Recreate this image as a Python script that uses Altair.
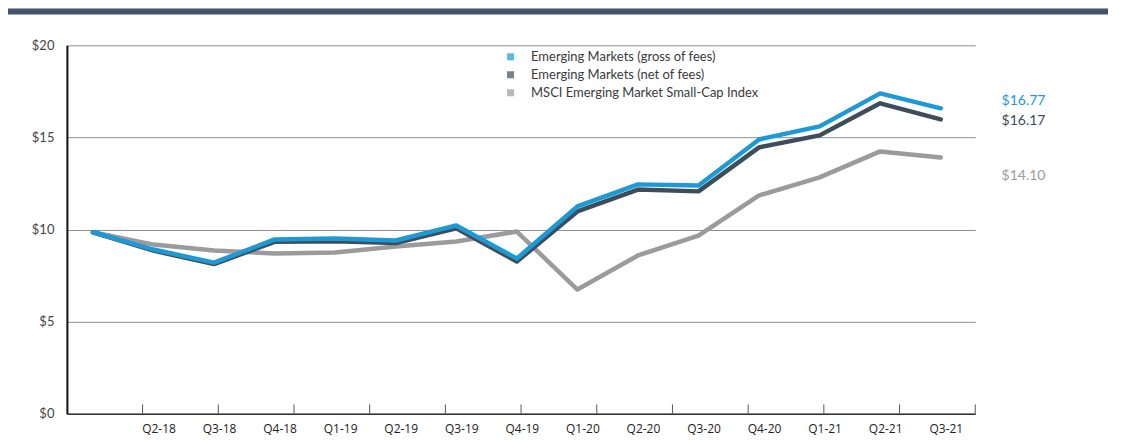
import json
import altair as alt
import pandas as pd

quarters = ["Q1-18", "Q2-18", "Q3-18", "Q4-18", "Q1-19", "Q2-19", "Q3-19", "Q4-19",
            "Q1-20", "Q2-20", "Q3-20", "Q4-20", "Q1-21", "Q2-21", "Q3-21"]
series_names = ["Emerging Markets (gross of fees)",
                "Emerging Markets (net of fees)",
                "MSCI Emerging Market Small-Cap Index"]
gross = [9.85, 8.91, 8.20, 9.46, 9.51, 9.40, 10.22, 8.42, 11.25, 12.45, 12.39, 14.89, 15.60, 17.39, 16.58]
net = [9.85, 8.85, 8.12, 9.33, 9.36, 9.26, 10.06, 8.26, 10.98, 12.17, 12.07, 14.46, 15.11, 16.85, 15.98]
msci = [9.85, 9.18, 8.86, 8.70, 8.75, 9.08, 9.35, 9.89, 6.74, 8.59, 9.67, 11.85, 12.83, 14.24, 13.91]
end_labels = ["$16.77", "$16.17", "$14.10"]
y_ticks = [0, 5, 10, 15, 20]
x_tick_marks = [0.82, 2.07, 3.32, 4.57, 5.82, 7.07, 8.32, 9.57, 10.82, 12.07, 13.32, 14.57]
colors = ["#1d9ad6", "#3e4d5c", "#9b9b9d"]

rows = []
for name, vals in zip(series_names, [gross, net, msci]):
    for i, (q, v) in enumerate(zip(quarters, vals)):
        rows.append({"series": name, "idx": i, "quarter": q, "value": v})
df = pd.DataFrame(rows)

xscale = alt.Scale(domain=[-0.43, 14.57], nice=False, zero=False)
yscale = alt.Scale(domain=[0, 20], nice=False)
cscale = alt.Scale(domain=series_names, range=colors)

label_arr = json.dumps(quarters)
x_axis = alt.Axis(values=list(range(1, 15)), labelExpr=f"{label_arr}[datum.value]",
                  ticks=False, grid=False, domainColor="#333", domainWidth=1.5,
                  labelFont="Open Sans", labelFontSize=12, labelColor="#222",
                  labelPadding=10, labelOffset=5, title=None)
y_axis = alt.Axis(values=y_ticks, labelExpr="'$' + datum.value", ticks=False, grid=True,
                  gridColor="#8f8f8f", gridWidth=1, domainColor="#111", domainWidth=2,
                  labelFont="Lato", labelFontSize=13, labelColor="#444",
                  labelPadding=13, title=None)

X = alt.X("idx:Q", scale=xscale, axis=x_axis)
Y = alt.Y("value:Q", scale=yscale, axis=y_axis)

legend = alt.Legend(title=None, orient="none", legendX=438, legendY=5,
                    symbolType="square", symbolSize=50, symbolStrokeWidth=0,
                    labelFont="Lato", labelFontSize=13, labelColor="#3a3a3a",
                    labelLimit=0, labelOffset=14, rowPadding=4, padding=0)
C = alt.Color("series:N", scale=cscale, legend=legend)

banner = alt.Chart(pd.DataFrame({"a": [0]})).mark_rect(color="#44546a").encode(
    x=alt.value(-59), x2=alt.value(1043), y=alt.value(-37), y2=alt.value(-31))

ticks = alt.Chart(pd.DataFrame({"t": x_tick_marks})).mark_rule(color="#555", strokeWidth=1).encode(
    x=alt.X("t:Q", scale=xscale, axis=x_axis),
    y=alt.Y(datum=0, scale=yscale, axis=y_axis),
    y2=alt.datum(0.5))

legend_layer = alt.Chart(df).mark_square(size=0, filled=True).encode(x=X, y=Y, color=C)

layers = [banner, ticks, legend_layer]
for name in reversed(series_names):
    layers.append(
        alt.Chart(df).transform_filter(alt.datum.series == name)
        .mark_line(strokeWidth=4.5, strokeCap="round", strokeJoin="round")
        .encode(x=X, y=Y, color=C)
    )

dys = [-7, 2, 19]
for name, lab, col, dy in zip(series_names, end_labels, colors, dys):
    layers.append(
        alt.Chart(df).transform_filter((alt.datum.series == name) & (alt.datum.idx == 14))
        .mark_text(align="left", baseline="middle", dx=61, dy=dy, font="Lato",
                   fontSize=14, color=col)
        .encode(x=X, y=Y, text=alt.value(lab))
    )

chart = alt.layer(*layers).properties(
    width=910, height=369,
    autosize=alt.AutoSizeParams(type="none"),
    padding={"left": 59, "top": 37, "right": 140, "bottom": 30},
    background="white",
).configure_view(stroke=None)

chart.save("out.html", embed_options={"renderer": "svg", "actions": False})
